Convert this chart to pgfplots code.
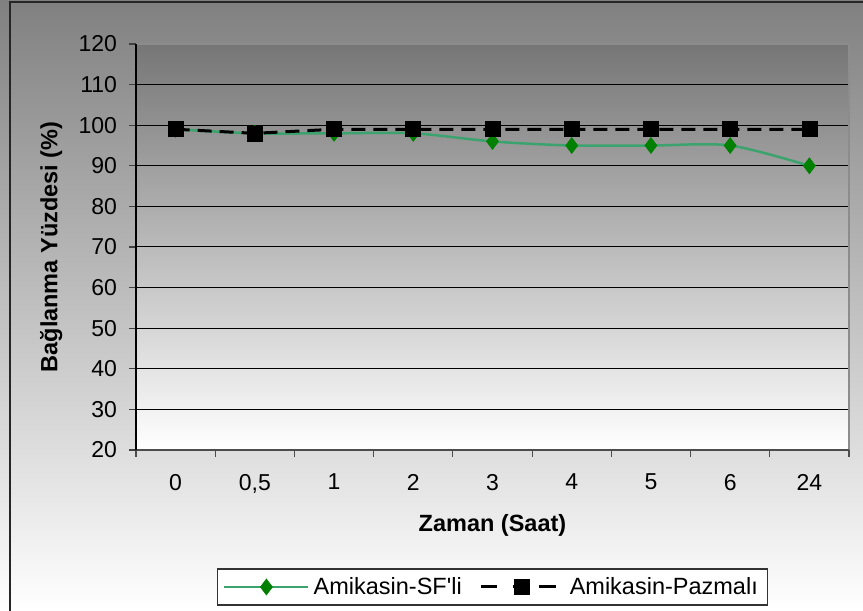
\documentclass[border=0pt]{standalone}
\usepackage{fontspec}
\setmainfont{Liberation Sans}[Ligatures=TeXOff]
\usepackage{pgfplots}
\pgfplotsset{compat=1.18}

\definecolor{sfline}{RGB}{60,163,110}
\definecolor{sfmark}{RGB}{0,128,0}
\definecolor{frame}{RGB}{140,140,140}

% legend samples: solid line with the marker in its middle, and a dashed one
\pgfplotsset{
  sf legend/.style={legend image code/.code={%
    \draw[##1, mark repeat=2, mark phase=2]
      plot coordinates {(0pt,0pt) (21pt,0pt) (42pt,0pt)};}},
  paz legend/.style={legend image code/.code={%
    \draw[##1, mark repeat=2, mark phase=2,
          dash pattern=on 8pt off 8pt on 8.5pt off 4.5pt on 9pt]
      plot coordinates {(0pt,0pt) (20.25pt,0pt) (37.5pt,0pt)};
    \path (41.5pt,0pt);}},
}

\begin{document}
\begin{tikzpicture}
% chart area: 431.5pt x 305.5pt, vertical grey-to-white fill
\path[use as bounding box] (0pt,0pt) rectangle (431.5pt,305.5pt);
\shade[top color={rgb,255:red,128;green,128;blue,128},
       middle color={rgb,255:red,196;green,196;blue,196},
       bottom color=white] (0pt,0pt) rectangle (431.5pt,305.5pt);
\draw[line width=1pt, black!85] (5pt,-2pt) -- (5pt,304.5pt) -- (440pt,304.5pt);

\begin{axis}[
  at={(68pt,80.5pt)}, anchor=south west,
  scale only axis, width=356.5pt, height=203pt,
  xmin=-0.5, xmax=8.5, ymin=20, ymax=120,
  xtick={0,...,8},
  xticklabels={0,{0,5},1,2,3,4,5,6,24},
  minor xtick={-0.5,0.5,...,8.5},
  ytick={20,30,...,120},
  tick pos=left, tick align=outside,
  major tick length=3.5pt, minor tick length=3.5pt,
  major x tick style={draw=none},
  minor x tick style={draw=black!70, line width=0.6pt},
  ytick style={draw=black!75, line width=0.6pt},
  /pgf/number format/assume math mode=true,
  tick label style={font=\fontsize{11.5}{13}\selectfont},
  yticklabel style={xshift=-2.5pt},
  xticklabel style={yshift=-5pt},
  axis line style={draw=none},
  axis background/.style={shade,
     top color={rgb,255:red,118;green,118;blue,118},
     middle color={rgb,255:red,200;green,200;blue,200},
     bottom color=white},
  ymajorgrids,
  major grid style={black, line width=0.5pt},
  xlabel={Zaman (Saat)},
  ylabel={Bağlanma Yüzdesi (\%)},
  label style={font=\bfseries\fontsize{11.75}{13}\selectfont},
  xlabel style={at={(axis description cs:0.5,-0.185)}, anchor=center},
  ylabel style={at={(axis description cs:-0.119,0.5)}, anchor=center},
  legend columns=2,
  legend style={at={(0.5,-0.3374)}, anchor=center,
    draw=black!80, fill=white, line width=0.6pt,
    font=\fontsize{11.75}{13}\selectfont,
    inner xsep=3pt, inner ysep=2pt,
    /tikz/every even column/.append style={column sep=7pt}},
  after end axis/.code={
    \draw[frame, line width=0.75pt] (rel axis cs:0,1) -- (rel axis cs:1,1) -- (rel axis cs:1,0);
    \draw[black!70, line width=1pt] (rel axis cs:0,0) -- (rel axis cs:1,0);
    \draw[black, line width=0.6pt] (rel axis cs:0,0) -- (rel axis cs:0,1);
  },
]

% Amikasin-SF'li: smoothed green line with diamonds
\addplot[sfline, line width=1.25pt, smooth, tension=0.5,
  mark=diamond*, mark size=4pt,
  mark options={solid, draw=sfmark, fill=sfmark, line width=0.3pt},
  sf legend]
  coordinates {(0,99) (1,98) (2,98) (3,98) (4,96) (5,95) (6,95) (7,95) (8,90)};
\addlegendentry{Amikasin-SF'li}

% Amikasin-Pazmalı: black dashed line with squares
\addplot[black, line width=1.5pt, dash pattern=on 7pt off 4pt,
  mark=square*, mark size=3.75pt,
  mark options={solid, fill=black, line width=0.3pt},
  paz legend]
  coordinates {(0,99) (1,98) (2,99) (3,99) (4,99) (5,99) (6,99) (7,99) (8,99)};
\addlegendentry{Amikasin-Pazmalı}

\end{axis}
\end{tikzpicture}
\end{document}
